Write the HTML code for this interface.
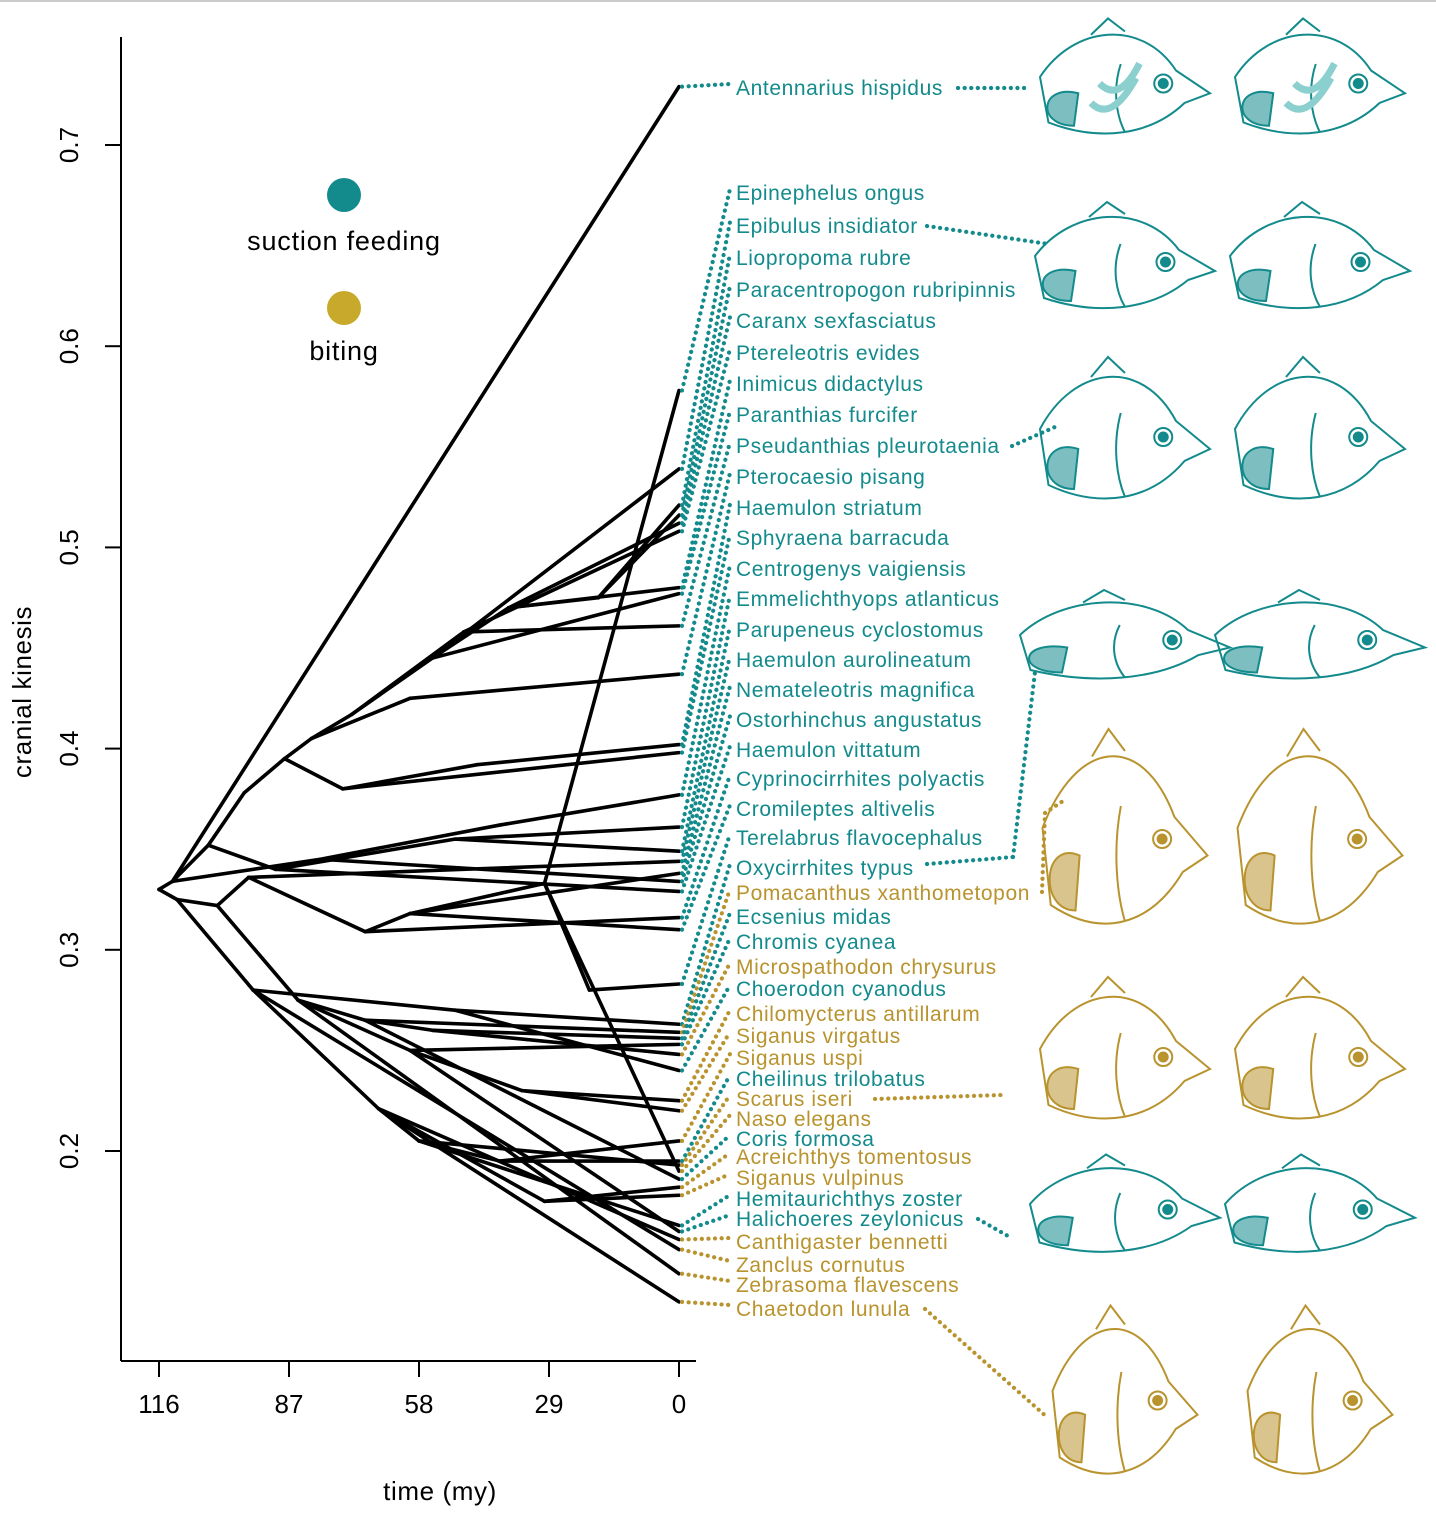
<!DOCTYPE html>
<html><head><meta charset="utf-8"><style>
html,body{margin:0;padding:0;background:#fff}
svg{display:block}
text{font-family:"Liberation Sans",sans-serif}
</style></head><body>
<svg id="chart" width="1436" height="1528" viewBox="0 0 1436 1528">
<line x1="0" y1="1" x2="1436" y2="1" stroke="#ccc" stroke-width="2"/>
<g id="axes"></g>
<g id="tree" stroke="#000" stroke-width="3.6" stroke-linecap="round"></g>
<g id="conn" fill="none" stroke-width="4.2" stroke-linecap="round" stroke-dasharray="0.1 6.5"></g>
<g id="labels" letter-spacing="0.6"></g>
<g id="fish" fill="none" stroke-width="2"></g>
<g letter-spacing="0.8">
<circle cx="344" cy="195" r="17" fill="#138a8c"/>
<text x="344" y="250" font-size="27" text-anchor="middle">suction feeding</text>
<circle cx="344" cy="308" r="17" fill="#c9a92b"/>
<text x="344" y="360" font-size="27" text-anchor="middle">biting</text>
</g>
</svg>
<script>
const NS="http://www.w3.org/2000/svg";
const TEAL="#138a8c",GOLD="#b8932e";
// data
const xTicks=[116,87,58,29,0];
const yTicks=[0.2,0.3,0.4,0.5,0.6,0.7];
const species=["Antennarius hispidus","Epinephelus ongus","Epibulus insidiator","Liopropoma rubre","Paracentropogon rubripinnis","Caranx sexfasciatus","Ptereleotris evides","Inimicus didactylus","Paranthias furcifer","Pseudanthias pleurotaenia","Pterocaesio pisang","Haemulon striatum","Sphyraena barracuda","Centrogenys vaigiensis","Emmelichthyops atlanticus","Parupeneus cyclostomus","Haemulon aurolineatum","Nemateleotris magnifica","Ostorhinchus angustatus","Haemulon vittatum","Cyprinocirrhites polyactis","Cromileptes altivelis","Terelabrus flavocephalus","Oxycirrhites typus","Pomacanthus xanthometopon","Ecsenius midas","Chromis cyanea","Microspathodon chrysurus","Choerodon cyanodus","Chilomycterus antillarum","Siganus virgatus","Siganus uspi","Cheilinus trilobatus","Scarus iseri","Naso elegans","Coris formosa","Acreichthys tomentosus","Siganus vulpinus","Hemitaurichthys zoster","Halichoeres zeylonicus","Canthigaster bennetti","Zanclus cornutus","Zebrasoma flavescens","Chaetodon lunula"];
const mode=["S","S","S","S","S","S","S","S","S","S","S","S","S","S","S","S","S","S","S","S","S","S","S","S","B","S","S","B","S","B","B","B","S","B","B","S","B","B","S","S","B","B","B","B"];
const tipValues=[0.729,0.578,0.539,0.521,0.516,0.512,0.508,0.480,0.477,0.461,0.437,0.402,0.398,0.377,0.361,0.349,0.344,0.338,0.334,0.329,0.316,0.310,0.283,0.263,0.259,0.256,0.253,0.248,0.240,0.225,0.220,0.205,0.195,0.193,0.190,0.186,0.182,0.178,0.163,0.160,0.156,0.151,0.139,0.125];
const labelY=[88,193,226,258,290,321,353,384,415,446,477,508,538,569,599,630,660,690,720,750,779,809,838,868,893,917,942,967,989,1014,1036,1058,1079,1099,1119,1139,1157,1178,1199,1219,1242,1265,1285,1309];
const nodeIds=["R","A","B","C","D","E","F","G","H","I","J","K","L","M","N","O","P","Q","S","T","U","V","W","X","Y","Z","AA","AB","AC","AD","AE","AF","AG","AH","AI","AJ"];
const nodeParent=[null,"R","R","A","C","D","E","F","G","H","I","G","F","E","M","C","O","A","Q","B","T","U","V","W","T","Y","Z","B","AB","AC","AD","AC","Y","AG","AB","X"];
const nodeTime=[116,113,112,105,97,88,82,73,55,38,18,48,60,75,45,90,50,80,40,103,96,70,60,30,85,70,55,95,67,58,40,30,60,35,50,20];
const nodeValue=[0.330,0.334,0.325,0.352,0.378,0.395,0.405,0.417,0.445,0.470,0.475,0.458,0.425,0.380,0.392,0.340,0.355,0.345,0.362,0.322,0.336,0.309,0.318,0.333,0.275,0.265,0.260,0.280,0.221,0.205,0.195,0.175,0.250,0.230,0.270,0.280];
const tipParent=["A","X","H","J","J","I","K","I","H","K","L","N","M","S","P","P","U","W","Q","O","V","W","AJ","AI","Z","AA","AG","AA","AI","AH","AH","AE","AE","AD","X","Z","AF","AF","AD","AG","AC","AB","Y","AC"];
// scales
const X=t=>679-(t/116)*520;
const Y=v=>1151-(v-0.2)*2012;
function el(tag,attrs,parent){const e=document.createElementNS(NS,tag);for(const k in attrs)e.setAttribute(k,attrs[k]);parent.appendChild(e);return e;}
const axes=document.getElementById('axes');
let a=el('line',{x1:121,y1:37,x2:121,y2:1361,stroke:'#000','stroke-width':2},axes);


a=el('line',{x1:121,y1:1361,x2:696,y2:1361,stroke:'#000','stroke-width':2},axes);


xTicks.forEach(t=>{
 const l=el('line',{x1:X(t),y1:1361,x2:X(t),y2:1377,stroke:'#000','stroke-width':2},axes);
 
 
 const tx=el('text',{x:X(t),y:1413,'font-size':26,'text-anchor':'middle'},axes);tx.textContent=t;
 
 
});
yTicks.forEach(v=>{
 const l=el('line',{x1:105,y1:Y(v),x2:121,y2:Y(v),stroke:'#000','stroke-width':2},axes);
 
 
 const tx=el('text',{x:0,y:0,'font-size':26,'text-anchor':'middle',transform:`translate(78,${Y(v)}) rotate(-90)`},axes);tx.textContent=v.toFixed(1);
 
 
});
let t=el('text',{x:440,y:1500,'font-size':26,'text-anchor':'middle','letter-spacing':0.6},axes);t.textContent='time (my)';


t=el('text',{x:0,y:0,'font-size':26,'text-anchor':'middle','letter-spacing':0.6,transform:'translate(31,692) rotate(-90)'},axes);t.textContent='cranial kinesis';


// tree
const tree=document.getElementById('tree');
const idx={};nodeIds.forEach((n,i)=>idx[n]=i);
nodeIds.forEach((n,i)=>{const p=nodeParent[i];if(p===null)return;const j=idx[p];
 const l=el('line',{x1:X(nodeTime[j]),y1:Y(nodeValue[j]),x2:X(nodeTime[i]),y2:Y(nodeValue[i])},tree);
 
 
});
tipValues.forEach((v,i)=>{const j=idx[tipParent[i]];
 const l=el('line',{x1:X(nodeTime[j]),y1:Y(nodeValue[j]),x2:X(0),y2:Y(v)},tree);
 
 
});
// connectors & labels
const conn=document.getElementById('conn'),labs=document.getElementById('labels');
species.forEach((s,i)=>{
 const c=mode[i]==='S'?TEAL:GOLD;
 const p=el('path',{d:`M${X(0)+3},${Y(tipValues[i])} L730,${labelY[i]-4}`,stroke:c},conn);
 
 
 const tx=el('text',{x:736,y:labelY[i]+7,'font-size':21,fill:c},labs);tx.textContent=s;
 
 
});
// fish connector lines
const fc=[[958,88,1030,88,TEAL],[927,226,1048,244,TEAL],[1012,446,1055,427,TEAL],[927,864,1013,857,TEAL],[1013,857,1035,672,TEAL],[1042,892,1045,813,GOLD],[1045,813,1066,799,GOLD],[875,1099,1003,1095,GOLD],[978,1219,1008,1236,TEAL],[925,1309,1048,1418,GOLD]];
fc.forEach(f=>{const p=el('path',{d:`M${f[0]},${f[1]} L${f[2]},${f[3]}`,stroke:f[4]},conn);
 
 });
// fish drawings
const fishG=document.getElementById('fish');
const fishRows=[[90,TEAL,170,130],[268,TEAL,180,120],[445,TEAL,170,160],[645,TEAL,210,100],[850,GOLD,165,220],[1065,GOLD,170,160],[1215,TEAL,190,110],[1410,GOLD,145,190]];
const fishCols=[1125,1320];
fishRows.forEach((r,ri)=>{
 fishCols.forEach(cx=>{
  const g=el('g',{transform:`translate(${cx},${r[0]})`,stroke:r[1]},fishG);
  
  
  const w=r[2]/2,h=r[3]/2;
  el('path',{d:`M${-w},${-h*0.2} C${-w*0.6},${-h} ${w*0.2},${-h*1.1} ${w*0.6},${-h*0.3} L${w},${h*0.05} L${w*0.7},${h*0.2} C${w*0.3},${h*0.7} ${-w*0.3},${h*0.8} ${-w*0.9},${h*0.5} Z`},g);
  el('path',{d:`M${-w*0.4},${-h*0.85} L${-w*0.2},${-h*1.1} L${0},${-h*0.9}`},g);
  el('circle',{cx:w*0.45,cy:-h*0.1,r:9},g);
  el('circle',{cx:w*0.45,cy:-h*0.1,r:4.5,fill:r[1]},g);
  el('path',{d:`M${-w*0.55},${h*0.05} C${-w*1.0},${-h*0.1} ${-w*1.05},${h*0.55} ${-w*0.6},${h*0.55} Z`,fill:r[1],'fill-opacity':0.55},g);
  el('path',{d:`M${-w*0.05},${-h*0.4} C${-w*0.15},${0} ${-w*0.1},${h*0.4} ${0},${h*0.65}`},g);
  if(ri===0){el('path',{d:`M${-w*0.3},${-h*0.1} q20,20 40,-20 M${-w*0.4},${h*0.2} q20,20 45,-25`,stroke:'#8ccfcf','stroke-width':7},g);}
 });
});
</script>
</body></html>
